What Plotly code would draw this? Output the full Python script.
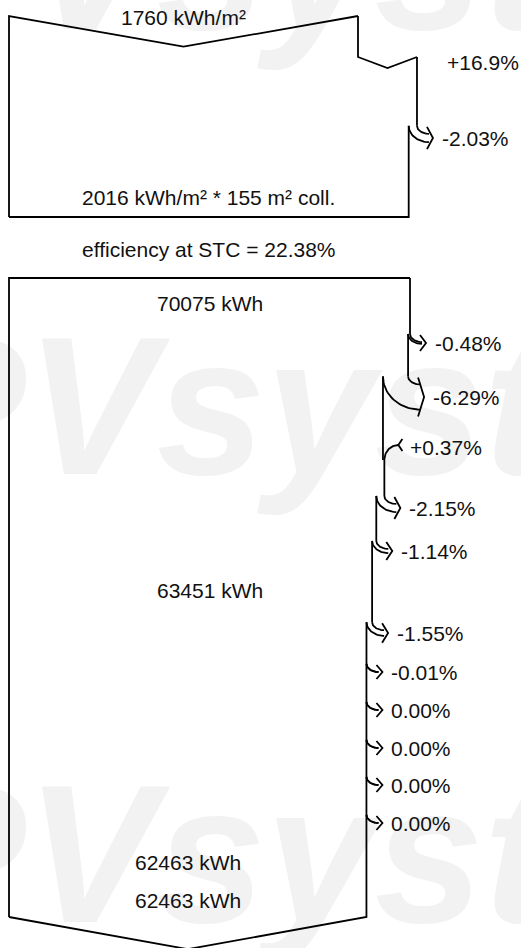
import numpy as np
import plotly.graph_objects as go

# irradiance part of the diagram
irr_labels = ["1760 kWh/m²", "2016 kWh/m² * 155 m² coll."]
irr_steps = [16.9, -2.03]
irr_step_text = ["+16.9%", "-2.03%"]
stc_label = "efficiency at STC = 22.38%"

# energy part
energy_labels = ["70075 kWh", "63451 kWh", "62463 kWh", "62463 kWh"]
energy_steps = [-0.48, -6.29, 0.37, -2.15, -1.14, -1.55, -0.01, 0.00, 0.00, 0.00, 0.00]
energy_step_text = ["-0.48%", "-6.29%", "+0.37%", "-2.15%", "-1.14%", "-1.55%",
                    "-0.01%", "0.00%", "0.00%", "0.00%", "0.00%"]

# layout (pixel space, y down)
W, H = 521, 948
X0 = 9
IRR_W = 349
EN_W = 401
irr_top, irr_bottom = 16, 217
irr_step_y = [62, 138]
en_top, en_bottom = 278, 917
en_step_y = [343, 397, 445, 508, 551, 633, 672, 710, 748, 785, 823]
FONT = "Liberation Sans, Arial, sans-serif"

xs, ys = [], []
labels = []


def seg(px, py):
    xs.extend(list(px) + [None])
    ys.extend(list(py) + [None])


def loss(x_o, d, y_c, y_s, text):
    # vertical edge, then the two curves bending out and the arrow head
    rx, ry = 12, 8
    y0 = y_c - ry - d / 2
    x_t = x_o + rx
    t = np.linspace(0, np.pi / 2, 25)
    seg([x_o, x_o], [y_s, y0])
    seg(x_t - rx * np.cos(t), y0 + ry * np.sin(t))
    seg(x_t - (rx + d) * np.cos(t), y0 + (ry + d) * np.sin(t))
    half = d / 2 + 7
    seg([x_t - 2, x_t + 4, x_t - 2], [y_c - half, y_c, y_c + half])
    labels.append((x_o + 23, y_c, text))
    return x_o - d, y0


def gain(x_o, d, y_c, y_s, text):
    x_n = x_o + d
    rx, ry = 14, 15
    x_t = x_n + rx
    t = np.linspace(0, np.pi / 2, 25)
    seg([x_o, x_o], [y_s, y_c + ry])
    seg(x_t - rx * np.sin(t), y_c + ry - ry * np.cos(t))
    seg([x_t + 4, x_t, x_t + 4], [y_c - 6, y_c, y_c + 6])
    labels.append((x_n + 24, y_c + 2, text))
    return x_n, y_c + ry


# ---- irradiance block
w = IRR_W
seg([X0, X0, X0 + w / 2, X0 + w], [irr_bottom, irr_top, irr_top + 0.088 * w, irr_top])
x_r = X0 + w
y_s = irr_top
for p, yc, txt in zip(irr_steps, irr_step_y, irr_step_text):
    d = w * p / 100
    if p > 0:
        yn = yc - 5
        seg([x_r, x_r, x_r + d / 2, x_r + d], [y_s, yn, yn + 11, yn])
        labels.append((x_r + d + 28, yc, txt))
        x_r, y_s = x_r + d, yn
    else:
        x_r, y_s = loss(x_r, -d, yc, y_s, txt)
    w += d
seg([x_r, x_r, X0], [y_s, irr_bottom, irr_bottom])
irr_center = X0 + w / 2

# ---- energy block
w = EN_W
seg([X0, X0, X0 + w], [en_bottom, en_top, en_top])
x_r = X0 + w
y_s = en_top
for p, yc, txt in zip(energy_steps, en_step_y, energy_step_text):
    d = w * p / 100
    if p > 0:
        x_r, y_s = gain(x_r, d, yc, y_s, txt)
    else:
        x_r, y_s = loss(x_r, -d, yc, y_s, txt)
    w += d
seg([x_r, x_r, X0 + w / 2, X0], [y_s, en_bottom, en_bottom + 0.09 * w, en_bottom])
en_center0 = X0 + EN_W / 2
en_center1 = X0 + w / 2

fig = go.Figure()

# faint watermark behind everything
fig.add_trace(go.Scatter(
    x=[-105, -105, -105], y=[-20, 425, 873],
    mode="text", text=["PVsyst"] * 3, textposition="middle right",
    textfont=dict(family=FONT, size=196, color="#f2f2f2", weight="bold", style="italic"),
    hoverinfo="skip", showlegend=False,
))

fig.add_trace(go.Scatter(
    x=xs, y=ys, mode="lines",
    line=dict(color="black", width=1.8),
    hoverinfo="skip", showlegend=False,
))

ann = []
for lx, ly, txt in labels:
    ann.append(dict(x=lx, y=ly, text=txt, xanchor="left"))
ann += [
    dict(x=X0 + IRR_W / 2, y=17, text=irr_labels[0], xanchor="center"),
    dict(x=irr_center, y=197, text=irr_labels[1], xanchor="center"),
    dict(x=irr_center, y=249, text=stc_label, xanchor="center"),
    dict(x=en_center0, y=303, text=energy_labels[0], xanchor="center"),
    dict(x=en_center0, y=590, text=energy_labels[1], xanchor="center"),
    dict(x=en_center1, y=862, text=energy_labels[2], xanchor="center"),
    dict(x=en_center1, y=900, text=energy_labels[3], xanchor="center"),
]
for a in ann:
    a.update(xref="x", yref="y", yanchor="middle", showarrow=False,
             font=dict(family=FONT, size=21, color="#111111"))

fig.update_layout(
    width=W, height=H,
    margin=dict(l=0, r=0, t=0, b=0),
    paper_bgcolor="white", plot_bgcolor="white",
    xaxis=dict(range=[0, W], visible=False, fixedrange=True),
    yaxis=dict(range=[H, 0], visible=False, fixedrange=True),
    annotations=ann,
)

fig.write_html("out.html", config={"displayModeBar": False},
               post_script="document.body.style.margin='0';")
